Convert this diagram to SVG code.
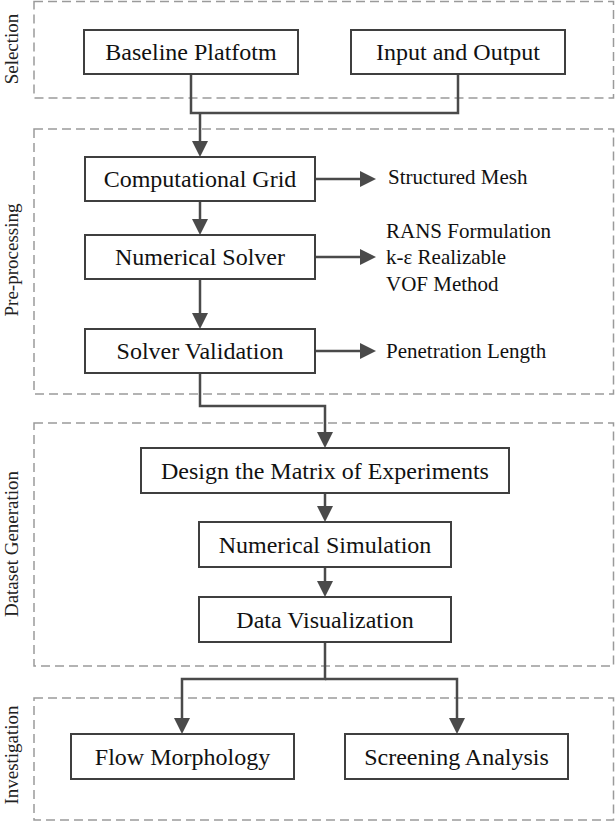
<svg xmlns="http://www.w3.org/2000/svg" width="616" height="822" viewBox="0 0 616 822">
<style>
.grp{fill:none;stroke:#9a9a9a;stroke-width:1.5;stroke-dasharray:9 5}
.glabel{font-family:"Liberation Serif","Times New Roman",serif;font-size:19px;fill:#222;text-anchor:middle}
.box{fill:#fff;stroke:#3f3f3f;stroke-width:2}
.t{font-family:"Liberation Serif","Times New Roman",serif;font-size:24px;fill:#111;text-anchor:middle}
.s{font-family:"Liberation Serif","Times New Roman",serif;font-size:21px;fill:#111}
.c{fill:none;stroke:#4a4a4a;stroke-width:2.5}
.a{fill:none;stroke:#4a4a4a;stroke-width:2.5;marker-end:url(#arr)}
</style>
<defs>
<marker id="arr" viewBox="0 0 16 16" refX="8" refY="8" markerWidth="16" markerHeight="16" markerUnits="userSpaceOnUse" orient="auto">
<path d="M0,0 L16,8 L0,16 z" fill="#4a4a4a"/>
</marker>
</defs>
<g id="groups">
<rect class="grp" x="34" y="1.5" width="579.5" height="96.5"/>
<rect class="grp" x="34" y="129" width="579.5" height="265"/>
<rect class="grp" x="34" y="423" width="579.5" height="243"/>
<rect class="grp" x="34" y="698" width="579.5" height="122"/>
<text class="glabel" transform="translate(17.5,49) rotate(-90)">Selection</text>
<text class="glabel" transform="translate(17.5,260) rotate(-90)">Pre-processing</text>
<text class="glabel" transform="translate(17.5,544) rotate(-90)">Dataset Generation</text>
<text class="glabel" transform="translate(17.5,755) rotate(-90)">Investigation</text>
</g>
<g id="connectors">
<path class="c" d="M191,74 V113 H458 V74"/>
<path class="a" d="M200,113 V149"/>
<path class="a" d="M200,201 V227"/>
<path class="a" d="M200,279 V321"/>
<path class="a" d="M200,373 V406 H325 V440"/>
<path class="a" d="M325,493 V514"/>
<path class="a" d="M325,567 V589"/>
<path class="a" d="M325,642 V679 H182 V726"/>
<path class="a" d="M325,679 H457 V726"/>
<path class="a" d="M315,179 H368"/>
<path class="a" d="M315,257 H368"/>
<path class="a" d="M315,351 H368"/>
</g>
<g id="baseline"><rect class="box" x="84" y="30" width="214" height="44"/><text class="t" x="191" y="60">Baseline Platfotm</text></g>
<g id="inputoutput"><rect class="box" x="351" y="30" width="214" height="44"/><text class="t" x="458" y="60">Input and Output</text></g>
<g id="compgrid"><rect class="box" x="85" y="157" width="230" height="44"/><text class="t" x="200" y="187">Computational Grid</text></g>
<g id="numsolver"><rect class="box" x="85" y="235" width="230" height="44"/><text class="t" x="200" y="265">Numerical Solver</text></g>
<g id="solverval"><rect class="box" x="85" y="329" width="230" height="44"/><text class="t" x="200" y="359">Solver Validation</text></g>
<g id="mesh"><text class="s" x="388" y="184">Structured Mesh</text></g>
<g id="models"><text class="s" x="386" y="238">RANS Formulation</text><text class="s" x="386" y="264">k-ε Realizable</text><text class="s" x="386" y="290.5">VOF Method</text></g>
<g id="penetration"><text class="s" x="386" y="358">Penetration Length</text></g>
<g id="design"><rect class="box" x="141" y="448" width="368" height="45"/><text class="t" x="325" y="478.5">Design the Matrix of Experiments</text></g>
<g id="numsim"><rect class="box" x="199" y="522" width="252" height="45"/><text class="t" x="325" y="552.5">Numerical Simulation</text></g>
<g id="datavis"><rect class="box" x="199" y="597" width="252" height="45"/><text class="t" x="325" y="627.5">Data Visualization</text></g>
<g id="flow"><rect class="box" x="71" y="734" width="223" height="45"/><text class="t" x="182.5" y="764.5">Flow Morphology</text></g>
<g id="screening"><rect class="box" x="345" y="734" width="223" height="45"/><text class="t" x="456.5" y="764.5">Screening Analysis</text></g>
</svg>
